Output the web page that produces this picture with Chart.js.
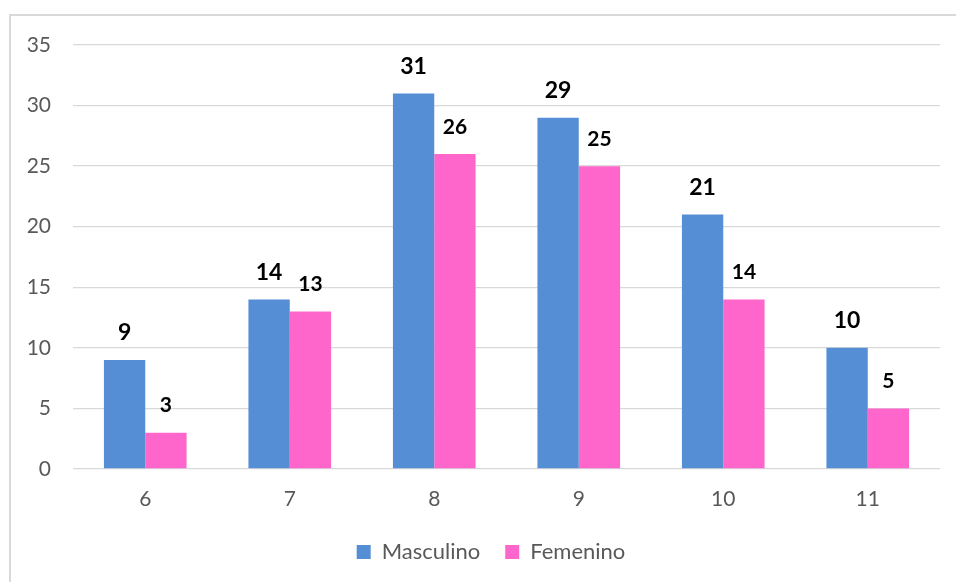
<!DOCTYPE html>
<html>
<head>
<meta charset="utf-8">
<script src="https://cdn.jsdelivr.net/npm/chart.js@4"></script>
<style>
  html, body { margin: 0; padding: 0; background: #fff; }
  #wrap { width: 956px; height: 582px; }
</style>
</head>
<body>
<div id="wrap"><canvas id="chart" width="956" height="582"></canvas></div>
<script>
var categories = ["6", "7", "8", "9", "10", "11"];
var masculino = [9, 14, 31, 29, 21, 10];
var femenino = [3, 13, 26, 25, 14, 5];
var yTicks = [0, 5, 10, 15, 20, 25, 30, 35];

var FONT = "Lato, 'Open Sans', sans-serif";

// frame of the chart (only left and top edges are in view),
// and nudge the legend to sit where it is in the original
var framePlugin = {
  id: "frame",
  afterLayout: function (chart) {
    if (chart.legend) {
      chart.legend.left += 21;
      chart.legend.right += 21;
    }
  },
  beforeDraw: function (chart) {
    var ctx = chart.ctx;
    ctx.save();
    ctx.strokeStyle = "#d9d9d9";
    ctx.lineWidth = 2;
    ctx.strokeRect(10, 15, 1000, 1000);
    ctx.restore();
  }
};

// value labels above the bars
var labelPlugin = {
  id: "valueLabels",
  afterDatasetsDraw: function (chart) {
    var ctx = chart.ctx;
    ctx.save();
    ctx.fillStyle = "#000";
    ctx.textAlign = "center";
    ctx.textBaseline = "middle";
    chart.data.datasets.forEach(function (ds, di) {
      var meta = chart.getDatasetMeta(di);
      ctx.font = "bold " + (di === 0 ? 23 : 21) + "px " + FONT;
      meta.data.forEach(function (bar, i) {
        ctx.fillText(String(ds.data[i]), bar.x, bar.y - 27);
      });
    });
    ctx.restore();
  }
};

new Chart(document.getElementById("chart").getContext("2d"), {
  type: "bar",
  data: {
    labels: categories,
    datasets: [{
      label: "Masculino",
      data: masculino,
      backgroundColor: "#558ed5",
      categoryPercentage: 0.572,
      barPercentage: 1
    }, {
      label: "Femenino",
      data: femenino,
      backgroundColor: "#ff66cc",
      categoryPercentage: 0.572,
      barPercentage: 1
    }]
  },
  options: {
    responsive: false,
    animation: false,
    layout: { padding: { top: 45, right: 16, left: 0, bottom: 9 } },
    plugins: {
      tooltip: { enabled: false },
      legend: {
        position: "bottom",
        labels: {
          boxWidth: 14,
          boxHeight: 14,
          padding: 25,
          color: "#595959",
          font: { family: FONT, size: 22 }
        }
      }
    },
    scales: {
      x: {
        afterFit: function (scale) { scale.height = 47; },
        grid: { display: false, drawTicks: false },
        border: { display: false },
        ticks: {
          color: "#595959",
          padding: 18,
          font: { family: FONT, size: 21 }
        }
      },
      y: {
        min: 0,
        max: 35,
        afterFit: function (scale) { scale.width = 73; },
        afterBuildTicks: function (scale) {
          scale.ticks = yTicks.map(function (v) { return { value: v }; });
        },
        grid: { color: "#d9d9d9", lineWidth: 1.3, drawTicks: false },
        border: { display: false },
        ticks: {
          color: "#595959",
          padding: 22,
          font: { family: FONT, size: 21 }
        }
      }
    }
  },
  plugins: [framePlugin, labelPlugin]
});
</script>
</body>
</html>
